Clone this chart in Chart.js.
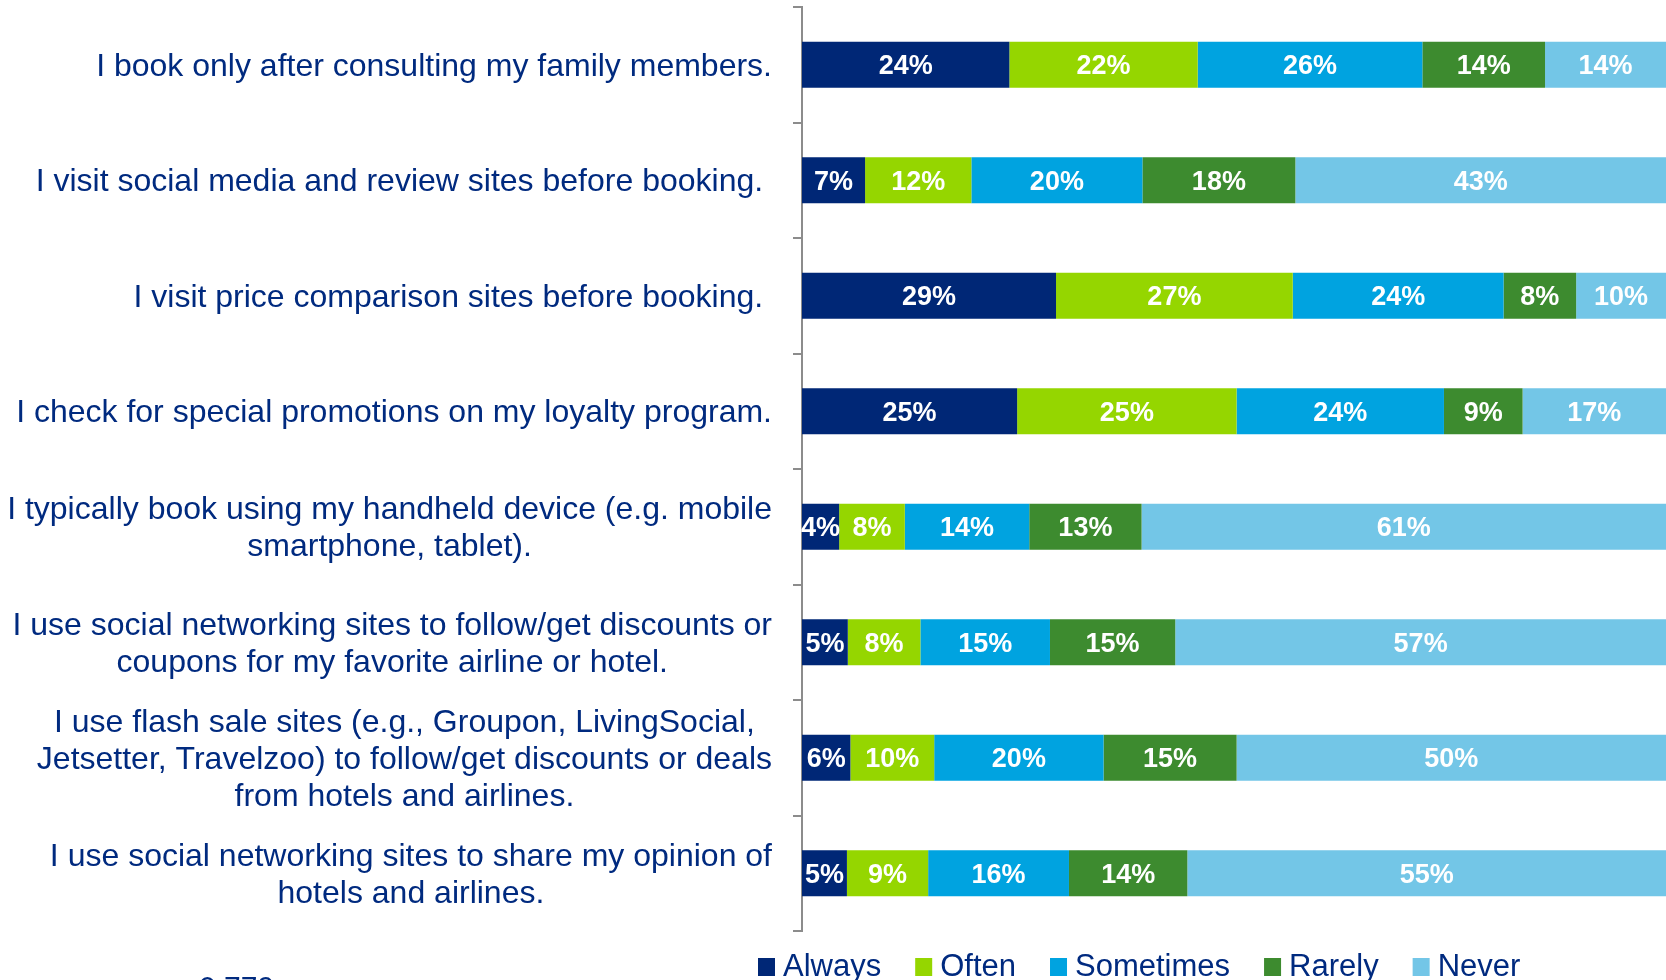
<!DOCTYPE html>
<html>
<head>
<meta charset="utf-8">
<script src="https://cdn.jsdelivr.net/npm/chart.js@4"></script>
<style>
  html, body { margin: 0; padding: 0; background: #fff; overflow: hidden; }
  #wrap { position: relative; width: 1666px; height: 980px; }
  #note { position: absolute; left: 199px; top: 972px; font: 30px 'Liberation Sans', Arial, sans-serif; line-height: 1; color: #002A7F; }
</style>
</head>
<body>
<div id="wrap">
  <canvas id="chart" width="1666" height="980"></canvas>
  <div id="note">0.779</div>
</div>
<script>
// Category labels (one entry per line)
const categories = [
  ['I book only after consulting my family members.'],
  ['I visit social media and review sites before booking. '],
  ['I visit price comparison sites before booking. '],
  ['I check for special promotions on my loyalty program.'],
  ['I typically book using my handheld device (e.g. mobile', 'smartphone, tablet).'],
  ['I use social networking sites to follow/get discounts or', 'coupons for my favorite airline or hotel.'],
  ['I use flash sale sites (e.g., Groupon, LivingSocial,', 'Jetsetter, Travelzoo) to follow/get discounts or deals', 'from hotels and airlines.'],
  ['I use social networking sites to share my opinion of', 'hotels and airlines.']
];

const seriesNames = ['Always', 'Often', 'Sometimes', 'Rarely', 'Never'];
const seriesColors = ['#002776', '#95D600', '#00A3E0', '#3D8B2F', '#73C6E7'];

// Percent values per series
const always    = [24.0, 7.3, 29.4, 24.9, 4.3, 5.3, 5.6, 5.2];
const often     = [21.8, 12.3, 27.4, 25.4, 7.6, 8.4, 9.7, 9.4];
const sometimes = [26.0, 19.8, 24.4, 24.0, 14.4, 15.0, 19.6, 16.3];
const rarely    = [14.2, 17.7, 8.4, 9.1, 13.0, 14.5, 15.4, 13.7];
const never     = [14.0, 42.9, 10.4, 16.6, 60.7, 56.8, 49.7, 55.4];

const seriesValues = [always, often, sometimes, rarely, never];

const labelColor = '#002A7F';
const fontFamily = "'Liberation Sans', Arial, sans-serif";

// Draw the category labels: block right-aligned, lines centred inside block
const categoryLabels = {
  id: 'categoryLabels',
  afterDraw(chart) {
    const ctx = chart.ctx;
    const yScale = chart.scales.y;
    const rightEdge = 772;
    const lineHeight = 37;
    ctx.save();
    ctx.font = '32px ' + fontFamily;
    ctx.fillStyle = labelColor;
    ctx.textAlign = 'center';
    ctx.textBaseline = 'middle';
    categories.forEach((lines, i) => {
      const widest = Math.max(...lines.map(l => ctx.measureText(l).width));
      const cx = rightEdge - widest / 2;
      const cy = yScale.getPixelForValue(i) + 2;
      const top = cy - (lines.length - 1) * lineHeight / 2;
      lines.forEach((line, k) => ctx.fillText(line, cx, top + k * lineHeight));
    });
    ctx.restore();
  }
};

// White percent labels inside each bar segment
const barLabels = {
  id: 'barLabels',
  afterDatasetsDraw(chart) {
    const ctx = chart.ctx;
    ctx.save();
    ctx.font = 'bold 27px ' + fontFamily;
    ctx.fillStyle = '#ffffff';
    ctx.textAlign = 'center';
    ctx.textBaseline = 'middle';
    chart.data.datasets.forEach((ds, di) => {
      const meta = chart.getDatasetMeta(di);
      meta.data.forEach((bar, i) => {
        const p = bar.getProps(['x', 'y', 'base'], true);
        ctx.fillText(Math.round(ds.data[i]) + '%', (p.x + p.base) / 2, p.y + 2);
      });
    });
    ctx.restore();
  }
};

// Legend along the bottom edge
const bottomLegend = {
  id: 'bottomLegend',
  afterDraw(chart) {
    const ctx = chart.ctx;
    ctx.save();
    ctx.font = '31px ' + fontFamily;
    ctx.textBaseline = 'alphabetic';
    ctx.textAlign = 'left';
    let x = 758;
    chart.data.datasets.forEach(ds => {
      ctx.fillStyle = ds.backgroundColor;
      ctx.fillRect(x, 958, 17, 18);
      ctx.fillStyle = labelColor;
      ctx.fillText(ds.label, x + 25, 976);
      x += 25 + ctx.measureText(ds.label).width + 34;
    });
    ctx.restore();
  }
};

const chart = new Chart(document.getElementById('chart'), {
  type: 'bar',
  data: {
    labels: categories.map(c => c.join(' ')),
    datasets: seriesNames.map((name, i) => ({
      label: name,
      data: seriesValues[i],
      backgroundColor: seriesColors[i],
      borderWidth: 0,
      barPercentage: 0.4,
      categoryPercentage: 1
    }))
  },
  options: {
    indexAxis: 'y',
    responsive: false,
    animation: false,
    layout: { padding: { top: 7, bottom: 49, left: 0, right: 0 } },
    plugins: {
      legend: { display: false },
      tooltip: { enabled: false }
    },
    scales: {
      x: {
        stacked: true,
        min: 0,
        max: 100,
        display: false
      },
      y: {
        stacked: true,
        ticks: { display: false },
        grid: {
          drawOnChartArea: false,
          drawTicks: true,
          tickLength: 9,
          color: '#8C8C8C',
          lineWidth: 2
        },
        border: { display: true, color: '#8C8C8C', width: 2 },
        afterFit(scale) { scale.width = 802; }
      }
    }
  },
  plugins: [categoryLabels, barLabels, bottomLegend]
});
</script>
</body>
</html>
